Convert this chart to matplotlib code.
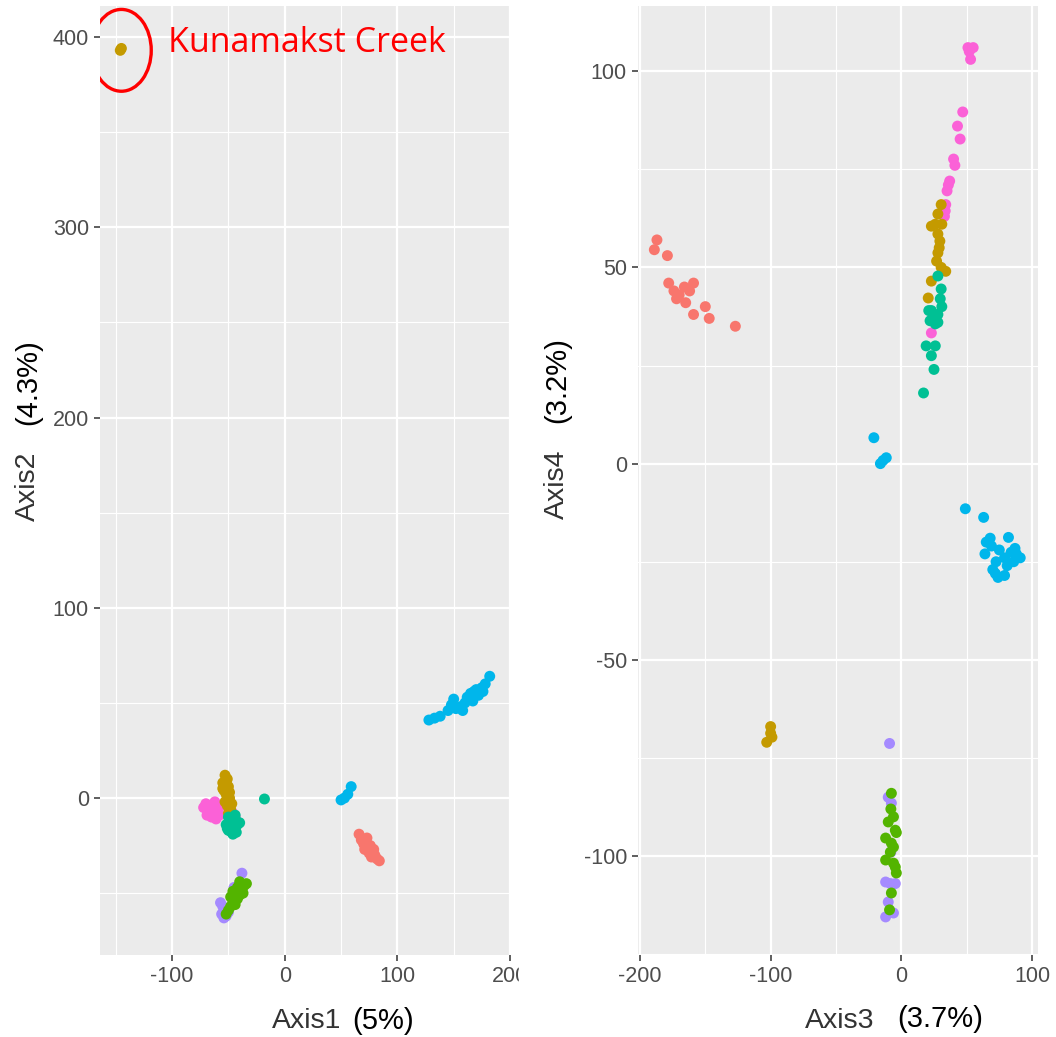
# PCoA of samples: Axis1/Axis2 and Axis3/Axis4, coloured by site

import matplotlib
matplotlib.use("Agg")
import matplotlib.pyplot as plt
from matplotlib.patches import Ellipse, Rectangle
from matplotlib.ticker import MultipleLocator

W, H = 1056, 1037

# ggplot hue palette, 7 groups (drawing order)
group_names = ["red", "blue", "purple", "pink", "gold", "teal", "green"]
group_colors = ["#F8766D", "#00B6EB", "#A58AFF", "#FB61D7", "#C49A00", "#00C094", "#53B400"]

# Axis1 / Axis2 scores
ax1_red = [66, 68, 70, 72, 71, 74, 76, 75, 78, 77, 80, 82, 84, 73, 79]
ax2_red = [-19, -22, -24, -23, -27, -26, -25, -29, -28, -31, -30, -32, -33, -21, -27]

ax1_blue = [50, 53, 56, 59, 128, 133, 138, 145, 148, 150, 152, 156, 160, 162, 165, 167,
            170, 172, 175, 178, 182, 158, 168, 176]
ax2_blue = [-1, 0, 2, 6, 41, 42, 43, 46, 49, 52, 47, 48, 50, 53, 55, 51,
            57, 54, 58, 60, 64, 46, 56, 56]

ax1_purple = [-38, -57, -55, -53, -56, -52, -50, -54, -45, -51]
ax2_purple = [-39.5, -55, -57, -59, -61, -62, -60, -63, -47, -58]

ax1_pink = [-72, -70, -68, -66, -64, -62, -60, -58, -65, -69, -63, -56, -46, -44, -48, -61]
ax2_pink = [-5, -3, -7, -4, -8, -2, -6, -9, -10, -9, -5, -4, -8, -10, -6, -11]

ax1_gold = [-145, -146, -53, -51, -55, -50, -54, -52, -49, -53, -51, -48, -50, -46, -55, -52, -49, -47]
ax2_gold = [394, 393, 12, 10, 8, 6, 4, 2, 0, -2, -4, -6, -8, -10, 5, 8, 3, -3]

ax1_teal = [-18, -50, -47, -44, -52, -48, -45, -42, -50, -46, -43, -40, -49, -47, -44, -51]
ax2_teal = [-0.5, -10, -12, -11, -14, -15, -16, -14, -17, -19, -18, -13, -13, -18, -9, -16]

ax1_green = [-40, -36, -42, -38, -44, -40, -46, -42, -46, -48, -44, -48, -50, -52, -34, -37]
ax2_green = [-44, -46, -47, -48, -50, -51, -49, -53, -54, -52, -56, -57, -59, -61, -45, -50]

# Axis3 / Axis4 scores
ax3_red = [-187, -189, -179, -178, -174, -170, -166, -162, -159, -165, -172, -159, -150, -147, -127]
ax4_red = [57, 54.5, 53, 46, 44, 43, 45, 44, 46, 41, 42, 38, 40, 37, 35]

ax3_blue = [-21, -16, -11.5, -14, 49, 63, 68, 82, 64, 87, 91, 72.5, 79, 72, 79, 84,
            65, 75, 70, 86, 69, 81, 74, 88]
ax4_blue = [6.6, 0, 1.5, 0.8, -11.5, -13.7, -19, -18.8, -23, -21.6, -24, -25, -24, -28, -28.5, -22.6,
            -20, -22, -27, -25, -21, -26, -29, -23]

ax3_purple = [-9, -10, -7.6, -12, -8.4, -4.6, -10, -12, -6, -8]
ax4_purple = [-71.3, -85, -86.5, -106.6, -107, -107, -111.7, -115.5, -114.5, -99]

ax3_pink = [51, 55, 53, 47, 43, 45, 40, 41, 37, 35, 34, 33.6, 23, 36, 33, 52]
ax4_pink = [106, 106, 103, 89.6, 86, 82.7, 77.6, 76, 72, 69.5, 66, 64.4, 33.3, 71, 63, 105]

ax3_gold = [-100, -100, -103, -99, 30.5, 28, 23, 28, 29.5, 28, 27, 30.5, 34, 23, 20.6, 31, 26, 29]
ax4_gold = [-67, -68.7, -71, -69.7, 66, 63.6, 60.5, 58.5, 56.7, 53.7, 51.6, 50, 49, 46.5, 42.2, 61, 61, 55]

ax3_teal = [28, 30.5, 29.8, 23, 28, 22, 26, 19, 26, 23, 25, 17, 31, 25, 21, 28]
ax4_teal = [47.8, 44.5, 42, 39, 38, 36.4, 35.6, 30, 30, 27.5, 24, 18, 40, 38, 39, 36]

ax3_green = [-7.6, -6, -10, -4.6, -3.8, -12, -7.6, -6, -8.4, -12, -6, -4.6, -3.8, -7.6, -9, -8]
ax4_green = [-84, -90, -91.3, -93.4, -94, -95.4, -96.7, -97.7, -99, -101, -101.8, -102.8, -104.3, -109.4, -113.7, -88]

left_x = [ax1_red, ax1_blue, ax1_purple, ax1_pink, ax1_gold, ax1_teal, ax1_green]
left_y = [ax2_red, ax2_blue, ax2_purple, ax2_pink, ax2_gold, ax2_teal, ax2_green]
right_x = [ax3_red, ax3_blue, ax3_purple, ax3_pink, ax3_gold, ax3_teal, ax3_green]
right_y = [ax4_red, ax4_blue, ax4_purple, ax4_pink, ax4_gold, ax4_teal, ax4_green]


def px_box(x0, y0, x1, y1):
    # pixel box (top-left origin) -> figure fraction rect
    return [x0 / W, 1 - y1 / H, (x1 - x0) / W, (y1 - y0) / H]


def gg_style(ax, xmaj, ymaj):
    ax.set_facecolor("#EBEBEB")
    for s in ax.spines.values():
        s.set_visible(False)
    ax.xaxis.set_major_locator(MultipleLocator(xmaj))
    ax.xaxis.set_minor_locator(MultipleLocator(xmaj / 2))
    ax.yaxis.set_major_locator(MultipleLocator(ymaj))
    ax.yaxis.set_minor_locator(MultipleLocator(ymaj / 2))
    ax.grid(which="major", color="white", lw=1.6)
    ax.grid(which="minor", color="white", lw=0.8)
    ax.set_axisbelow(True)
    ax.tick_params(which="major", length=4, width=1.1, color="#333333",
                   labelcolor="#4D4D4D", labelsize=15.5, pad=4)
    ax.tick_params(which="minor", length=0)


plt.rcParams["font.family"] = ["Liberation Sans", "DejaVu Sans"]
plt.rcParams["axes.unicode_minus"] = False
fig = plt.figure(figsize=(W / 100, H / 100), dpi=100)

axL = fig.add_axes(px_box(100, 6, 510, 955))
axR = fig.add_axes(px_box(638, 6, 1038, 955))

for xs, ys, c in zip(left_x, left_y, group_colors):
    axL.scatter(xs, ys, s=62, color=c, edgecolors="none", zorder=3)
for xs, ys, c in zip(right_x, right_y, group_colors):
    axR.scatter(xs, ys, s=62, color=c, edgecolors="none", zorder=3)

axL.set_xlim(-164, 200)
axL.set_ylim(-82.5, 416.3)
gg_style(axL, 100, 100)

axR.set_xlim(-201.5, 104.6)
axR.set_ylim(-125.2, 116.6)
gg_style(axR, 100, 50)

# highlighted outlier
axL.add_patch(Ellipse((-145, 393), 53, 43, fill=False, ec="#FF0000", lw=2.4, zorder=4))
axL.text(-104, 397, "Kunamakst Creek", color="#FF0000", fontsize=24.5,
         family="Open Sans", ha="left", va="center", zorder=4)

# axis titles (label part grey, variance part black)
fig.text(307 / W, 1 - 1021 / H, "Axis1", fontsize=20.5, color="#333333", ha="center", va="center")
fig.text(383 / W, 1 - 1021 / H, "(5%)", fontsize=21, color="black", ha="center", va="center")
fig.text(840 / W, 1 - 1021 / H, "Axis3", fontsize=20.5, color="#333333", ha="center", va="center")
fig.text(940 / W, 1 - 1019 / H, "(3.7%)", fontsize=21, color="black", ha="center", va="center")
fig.text(28 / W, 1 - 486 / H, "Axis2", fontsize=20.5, color="#333333", rotation=90, ha="center", va="center")
fig.text(28 / W, 1 - 382 / H, "(4.3%)", fontsize=21, color="black", rotation=90, ha="center", va="center")
fig.text(557 / W, 1 - 484 / H, "Axis4", fontsize=20.5, color="#333333", rotation=90, ha="center", va="center")
fig.text(557 / W, 1 - 380 / H, "(3.2%)", fontsize=21, color="black", rotation=90, ha="center", va="center")

# the original screenshot is cropped right after the "200" tick label
fig.add_artist(Rectangle((519 / W, 1 - 1000 / H), 40 / W, 35 / H,
                         transform=fig.transFigure, color="white", zorder=10))

fig.savefig("out.png", dpi=100)
